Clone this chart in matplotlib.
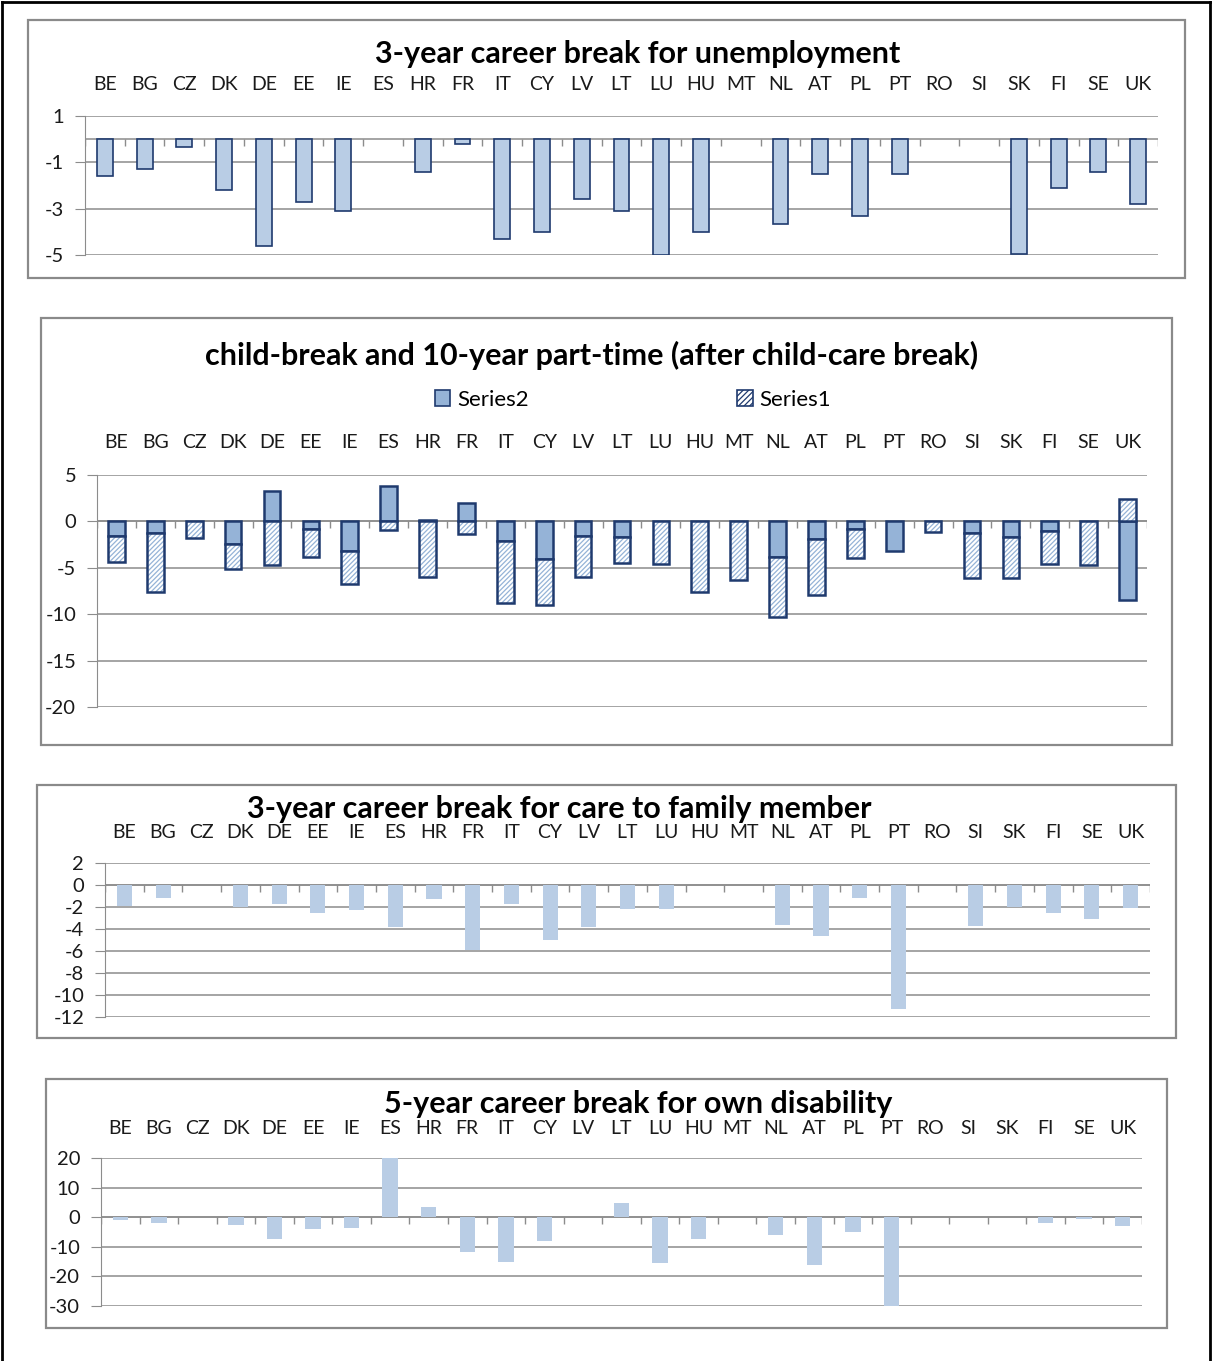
import numpy as np
import matplotlib.pyplot as plt
from matplotlib import transforms
from matplotlib.patches import Rectangle, Patch
from matplotlib.lines import Line2D

plt.rcParams['font.family'] = ['Lato', 'DejaVu Sans']
plt.rcParams['hatch.linewidth'] = 0.9

countries = ['BE', 'BG', 'CZ', 'DK', 'DE', 'EE', 'IE', 'ES', 'HR', 'FR', 'IT', 'CY', 'LV', 'LT',
             'LU', 'HU', 'MT', 'NL', 'AT', 'PL', 'PT', 'RO', 'SI', 'SK', 'FI', 'SE', 'UK']

# 3-year break, unemployment
unemployment = [-1.6, -1.3, -0.35, -2.2, -4.6, -2.7, -3.1, 0, -1.4, -0.2, -4.3, -4.0, -2.6, -3.1,
                -5.0, -4.0, 0, -3.65, -1.5, -3.3, -1.5, 0, 0, -4.95, -2.1, -1.4, -2.8]

# child break + part-time (stacked)
series2 = [-1.6, -1.3, 0, -2.4, 3.3, -0.8, -3.15, 3.8, 0.15, 2.0, -2.1, -4.0, -1.6, -1.7,
           0, 0, 0, -3.8, -1.85, -0.8, -3.15, 0, -1.25, -1.65, -1.05, 0, -8.5]
series1 = [-2.8, -6.3, -1.75, -2.7, -4.7, -3.05, -3.55, -0.9, -6.0, -1.4, -6.7, -5.0, -4.4, -2.75,
           -4.6, -7.6, -6.3, -6.45, -6.1, -3.15, 0, -1.15, -4.85, -4.45, -3.5, -4.7, 2.4]

# 3-year break, care to family member
family = [-1.95, -1.2, 0, -2.0, -1.7, -2.5, -2.3, -3.8, -1.3, -5.95, -1.7, -5.0, -3.85, -2.2,
          -2.2, 0, 0, -3.65, -4.6, -1.2, -11.3, 0, -3.75, -2.0, -2.5, -3.05, -2.1]

# 5-year break, own disability
disability = [-0.9, -2.0, 0, -2.8, -7.3, -3.9, -3.6, 20.0, 3.5, -11.7, -15.1, -8.0, 0, 4.9,
              -15.4, -7.2, 0, -6.1, -16.1, -4.9, -30.0, 0, 0, 0, -1.9, -0.5, -3.1]

W, H = 1212, 1361
fig = plt.figure(figsize=(W / 100, H / 100), dpi=100)

GRID = '#8c8c8c'
LIGHT = '#b9cde5'
MID = '#95b3d7'
NAVY = '#1f3a6e'
TXT = '#1a1a1a'
x = np.arange(len(countries))


def add_panel(l, t, r, b, ylim, yticks, title, title_xy, lab_y, frame):
    ax = fig.add_axes([l / W, 1 - b / H, (r - l) / W, (b - t) / H])
    ax.set_xlim(-0.5, len(countries) - 0.5)
    ax.set_ylim(*ylim)
    ax.set_yticks(yticks)
    ax.set_yticklabels([str(v) for v in yticks], fontsize=14.5, color=TXT)
    ax.set_xticks([])
    for s in ['top', 'right', 'bottom']:
        ax.spines[s].set_visible(False)
    ax.spines['left'].set_color(GRID)
    ax.tick_params(axis='y', length=7, color=GRID, pad=8)
    ax.set_axisbelow(True)
    ax.grid(axis='y', color=GRID, lw=1.1)
    ax.axhline(0, color=GRID, lw=1.1, zorder=1)
    # small tick marks between categories on the zero line
    tl = (ylim[1] - ylim[0]) * 7 / (b - t)
    ax.vlines(np.arange(-0.5, len(countries)), -tl, 0, color=GRID, lw=1, zorder=1)
    trans = transforms.blended_transform_factory(ax.transData, fig.transFigure)
    for i, c in enumerate(countries):
        ax.text(i, 1 - lab_y / H, c, transform=trans, ha='center', va='center',
                fontsize=14, color=TXT)
    fig.text(title_xy[0] / W, 1 - title_xy[1] / H, title, ha='center', va='center',
             fontsize=22, fontweight='bold', color='black')
    fl, ft, fr, fb = frame
    fig.patches.append(Rectangle((fl / W, 1 - fb / H), (fr - fl) / W, (fb - ft) / H,
                                 transform=fig.transFigure, fill=False,
                                 edgecolor='#8a8a8a', lw=1.6))
    return ax


# panel 1
ax1 = add_panel(85, 116, 1158, 255, (-5, 1), [1, -1, -3, -5],
                '3-year career break for unemployment', (638, 54), 85, (28, 20, 1185, 278))
u = np.array(unemployment)
mu = u != 0
ax1.bar(x[mu], u[mu], width=0.4, color=LIGHT, edgecolor=NAVY, lw=1.2, zorder=3)

# panel 2
ax2 = add_panel(97, 475, 1147, 707, (-20, 5), [5, 0, -5, -10, -15, -20],
                'child-break and 10-year part-time (after child-care break)', (592, 355), 443,
                (41, 318, 1172, 745))
s2 = np.array(series2)
s1 = np.array(series1)
bot1 = np.where(s1 >= 0, np.maximum(s2, 0), np.minimum(s2, 0))
m2 = s2 != 0
m1 = s1 != 0
ax2.bar(x[m2], s2[m2], width=0.43, color=MID, edgecolor=NAVY, lw=1.8, zorder=3)
ax2.bar(x[m1], s1[m1], bottom=bot1[m1], width=0.43, color='white', edgecolor=MID,
        hatch='///////', lw=0, zorder=3)
ax2.bar(x[m1], s1[m1], bottom=bot1[m1], width=0.43, fill=False, edgecolor=NAVY, lw=1.8, zorder=4)
handles = [Patch(facecolor=MID, edgecolor=NAVY, lw=1.2),
           Patch(facecolor='white', edgecolor=NAVY, hatch='//////', lw=1.2)]
fig.legend(handles, ['Series2', 'Series1'], ncol=2, loc='center',
           bbox_to_anchor=(633 / W, 1 - 400 / H), frameon=False, fontsize=16,
           handlelength=0.7, handleheight=0.7, handletextpad=0.3, columnspacing=9.4)

# panel 3
ax3 = add_panel(105, 863, 1150, 1017, (-12, 2), [2, 0, -2, -4, -6, -8, -10, -12],
                '3-year career break for care to family member', (559, 809), 833,
                (37, 785, 1176, 1038))
ax3.bar(x, family, width=0.39, color=LIGHT, lw=0, zorder=3)

# panel 4
ax4 = add_panel(101, 1158, 1142, 1306, (-30, 20), [20, 10, 0, -10, -20, -30],
                '5-year career break for own disability', (638, 1104), 1128,
                (46, 1079, 1167, 1328))
ax4.bar(x, disability, width=0.4, color=LIGHT, lw=0, zorder=3)

# outer frame (left, top, right)
for xs, ys in [((2, 2), (2, H)), ((2, 1210), (2, 2)), ((1210, 1210), (2, H))]:
    fig.lines.append(Line2D([v / W for v in xs], [1 - v / H for v in ys],
                            transform=fig.transFigure, color='black', lw=2))

fig.savefig('out.png', dpi=100)
